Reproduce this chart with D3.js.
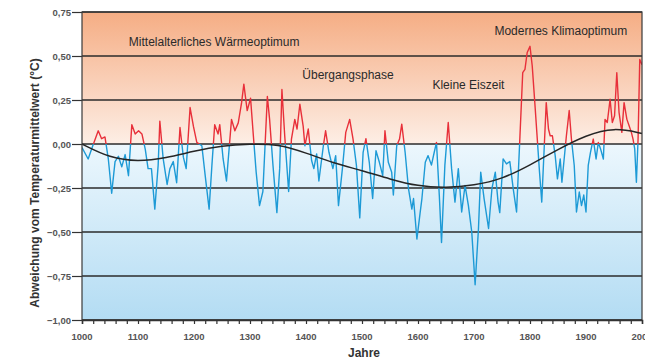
<!DOCTYPE html>
<html>
<head>
<meta charset="utf-8">
<script src="https://cdn.jsdelivr.net/npm/d3@7"></script>
<style>
  body { margin: 0; background: #fff; }
  svg { display: block; font-family: "Liberation Sans", Arial, sans-serif; }
</style>
</head>
<body>
<div id="chart"></div>
<script>
// Jahre und Abweichung (°C) der rekonstruierten Temperatur
var years = [1000, 1011, 1017, 1029, 1035, 1041, 1047, 1053, 1059, 1065, 1071, 1077, 1083, 1089, 1095, 1101, 1107, 1113, 1118, 1124,
  1130, 1136, 1139, 1145, 1152, 1157, 1163, 1169, 1175, 1181, 1186, 1193, 1199, 1205, 1214, 1220, 1227, 1232, 1237, 1243,
  1246, 1252, 1258, 1267, 1273, 1279, 1285, 1289, 1295, 1301, 1306, 1311, 1317, 1323, 1331, 1335, 1341, 1348, 1353, 1357,
  1362, 1369, 1374, 1380, 1384, 1389, 1395, 1398, 1404, 1410, 1414, 1419, 1423, 1431, 1435, 1441, 1448, 1453, 1458, 1465,
  1471, 1478, 1484, 1490, 1496, 1502, 1507, 1513, 1519, 1525, 1531, 1537, 1541, 1547, 1553, 1556, 1562, 1567, 1571, 1577,
  1583, 1589, 1592, 1598, 1604, 1607, 1613, 1618, 1624, 1629, 1633, 1638, 1642, 1648, 1654, 1660, 1666, 1672, 1678, 1684,
  1690, 1696, 1702, 1708, 1712, 1718, 1726, 1732, 1738, 1743, 1746, 1752, 1758, 1764, 1770, 1776, 1782, 1787, 1791, 1795,
  1800, 1804, 1809, 1813, 1817, 1821, 1825, 1829, 1833, 1836, 1840, 1845, 1849, 1854, 1857, 1861, 1865, 1870, 1874, 1879,
  1883, 1888, 1892, 1896, 1900, 1904, 1908, 1913, 1918, 1922, 1926, 1931, 1934, 1938, 1943, 1947, 1951, 1955, 1959, 1964,
  1968, 1973, 1977, 1981, 1984, 1987, 1990, 1993, 1996, 2000];
var values = [-0.02, -0.085, -0.03, 0.075, 0.03, 0.04, -0.085, -0.28, -0.10, -0.07, -0.13, -0.06, -0.18, 0.11, 0.057, 0.075, 0.057, -0.03, -0.14, -0.14,
  -0.37, -0.12, 0.13, -0.085, -0.23, -0.14, -0.10, -0.22, 0.094, -0.075, -0.14, 0.207, 0.10, 0.009, -0.01, -0.18, -0.37, -0.12, 0.11, 0.057,
  0.11, -0.085, -0.21, 0.14, 0.075, 0.12, 0.235, 0.34, 0.19, 0.26, 0.047, -0.16, -0.35, -0.27, 0.27, 0.14, -0.12, -0.39, -0.14, 0.31,
  0.047, -0.27, 0.028, 0.14, 0.085, 0.226, 0.10, -0.01, 0.085, -0.094, -0.14, -0.056, -0.21, -0.01, 0.075, -0.047, -0.14, -0.066, -0.35, -0.14,
  0.066, 0.14, 0.028, -0.12, -0.42, -0.047, 0.03, -0.104, -0.31, -0.038, -0.104, -0.18, 0.075, -0.104, -0.16, -0.29, -0.01, 0.028, 0.113, -0.047,
  -0.254, -0.37, -0.31, -0.54, -0.386, -0.31, -0.104, -0.066, -0.12, -0.047, 0.009, -0.29, -0.56, -0.12, 0.122, -0.14, -0.33, -0.14, -0.386, -0.235,
  -0.35, -0.5, -0.8, -0.48, -0.16, -0.31, -0.48, -0.254, -0.16, -0.33, -0.39, -0.085, -0.113, -0.10, -0.254, -0.386, 0.04, 0.405, 0.424, 0.52,
  0.555, 0.443, 0.216, 0.028, -0.16, -0.33, -0.047, 0.235, 0.085, 0.047, 0.047, -0.066, -0.198, -0.085, -0.217, -0.085, 0.047, 0.19, 0.028, -0.122,
  -0.386, -0.273, -0.35, -0.29, -0.386, -0.122, -0.047, 0.028, -0.085, 0.009, -0.028, -0.085, 0.14, 0.122, 0.254, 0.122, 0.16, 0.405, 0.18, 0.066,
  0.235, 0.14, 0.104, 0.066, 0.028, -0.028, -0.217, 0.028, 0.48, 0.45];

// geglaetteter Verlauf (schwarze Kurve)
var trendYears = [1000, 1050, 1100, 1150, 1200, 1250, 1300, 1350, 1400, 1450, 1500, 1550, 1600, 1650, 1700, 1750, 1800, 1850, 1900, 1950, 2000];
var trendValues = [0, -0.08, -0.1, -0.08, -0.04, -0.01, 0, 0, -0.05, -0.11, -0.15, -0.2, -0.24, -0.25, -0.235, -0.2, -0.12, -0.03, 0.05, 0.095, 0.06];

var yTicks = [0.75, 0.5, 0.25, 0, -0.25, -0.5, -0.75, -1];
var xTicks = [1000, 1100, 1200, 1300, 1400, 1500, 1600, 1700, 1800, 1900, 2000];

// Epochen-Beschriftungen: Text, Jahr (Mitte), Wert (Grundlinie)
var epochNames = ["Mittelalterliches Wärmeoptimum", "Übergangsphase", "Kleine Eiszeit", "Modernes Klimaoptimum"];
var epochYears = [1236, 1475, 1690, 1855];
var epochValues = [0.555, 0.37, 0.31, 0.62];

var svg = d3.select("#chart").append("svg")
  .attr("width", 645)
  .attr("height", 361),
  margin = {top: 12, right: 3, bottom: 41, left: 82},
  width = 645 - margin.left - margin.right,
  height = 361 - margin.top - margin.bottom;

var x = d3.scaleLinear().domain([1000, 2000]).range([margin.left, margin.left + width]);
var y = d3.scaleLinear().domain([-1, 0.75]).range([margin.top + height, margin.top]);

var defs = svg.append("defs");
var zeroOffset = (y(0) - margin.top) / height;

var grad = defs.append("linearGradient")
  .attr("id", "bg")
  .attr("x1", 0).attr("y1", 0)
  .attr("x2", 0).attr("y2", 1);
grad.append("stop").attr("offset", 0).attr("stop-color", "#f5ad84");
grad.append("stop").attr("offset", zeroOffset - 0.001).attr("stop-color", "#fdeee5");
grad.append("stop").attr("offset", zeroOffset).attr("stop-color", "#ecf7fd");
grad.append("stop").attr("offset", 1).attr("stop-color", "#b3dcf3");

defs.append("clipPath").attr("id", "above")
  .append("rect")
  .attr("x", margin.left).attr("y", margin.top)
  .attr("width", width).attr("height", y(0) - margin.top);
defs.append("clipPath").attr("id", "below")
  .append("rect")
  .attr("x", margin.left).attr("y", y(0))
  .attr("width", width).attr("height", margin.top + height - y(0));

svg.append("rect")
  .attr("x", margin.left)
  .attr("y", margin.top)
  .attr("width", width)
  .attr("height", height)
  .attr("fill", "url(#bg)");

// Gitterlinien mit Tick-Strichen nach links
svg.append("g")
  .attr("transform", "translate(" + margin.left + ",0)")
  .call(d3.axisLeft(y).tickValues(yTicks).tickSize(10)
    .tickFormat(function(d) { return d3.format(".2f")(d).replace(".", ","); }))
  .call(function(g) {
    g.select(".domain").remove();
    g.selectAll(".tick line").attr("stroke", "#333").attr("stroke-width", 1.2);
    g.selectAll(".tick text").attr("x", -11).attr("fill", "#555")
      .attr("font-size", 9.5).attr("font-weight", "bold");
  });

svg.append("g")
  .selectAll("line")
  .data(yTicks)
  .enter()
  .append("line")
  .attr("x1", margin.left)
  .attr("x2", margin.left + width)
  .attr("y1", function(d) { return y(d); })
  .attr("y2", function(d) { return y(d); })
  .attr("stroke", "#2b2b2b")
  .attr("stroke-width", 1.3);

var line = d3.line()
  .x(function(d, i) { return x(years[i]); })
  .y(function(d) { return y(d); });

svg.append("path")
  .datum(values)
  .attr("clip-path", "url(#above)")
  .attr("d", line)
  .attr("fill", "none")
  .attr("stroke", "#e8303a")
  .attr("stroke-width", 1.4)
  .attr("stroke-linejoin", "round");

svg.append("path")
  .datum(values)
  .attr("clip-path", "url(#below)")
  .attr("d", line)
  .attr("fill", "none")
  .attr("stroke", "#1d9ad6")
  .attr("stroke-width", 1.4)
  .attr("stroke-linejoin", "round");

var trend = d3.line()
  .curve(d3.curveBasis)
  .x(function(d, i) { return x(trendYears[i]); })
  .y(function(d) { return y(d); });

svg.append("path")
  .datum(trendValues)
  .attr("d", trend)
  .attr("fill", "none")
  .attr("stroke", "#262626")
  .attr("stroke-width", 1.5);

// Rahmen
svg.append("rect")
  .attr("x", margin.left)
  .attr("y", margin.top)
  .attr("width", width)
  .attr("height", height)
  .attr("fill", "none")
  .attr("stroke", "#3a3a3a")
  .attr("stroke-width", 1.2);

svg.append("g")
  .attr("transform", "translate(0," + (margin.top + height) + ")")
  .call(d3.axisBottom(x).ticks(50).tickSize(4).tickFormat(""))
  .call(function(g) {
    g.select(".domain").attr("stroke", "#333").attr("stroke-width", 1.5);
    g.selectAll(".tick line").attr("stroke", "#333").attr("stroke-width", 1.2);
  });

svg.append("g")
  .selectAll("text")
  .data(xTicks)
  .enter()
  .append("text")
  .attr("x", function(d) { return x(d); })
  .attr("y", margin.top + height + 20)
  .attr("text-anchor", "middle")
  .attr("font-size", 9.5)
  .attr("font-weight", "bold")
  .attr("fill", "#555")
  .text(function(d) { return d; });

svg.append("text")
  .attr("x", 364)
  .attr("y", 357)
  .attr("text-anchor", "middle")
  .attr("font-size", 12)
  .attr("font-weight", "bold")
  .attr("fill", "#333")
  .text("Jahre");

svg.append("text")
  .attr("transform", "translate(39,183) rotate(-90)")
  .attr("text-anchor", "middle")
  .attr("font-size", 12)
  .attr("font-weight", "bold")
  .attr("fill", "#333")
  .text("Abweichung vom Temperaturmittelwert (°C)");

svg.append("g")
  .selectAll("text")
  .data(epochNames)
  .enter()
  .append("text")
  .attr("x", function(d, i) { return x(epochYears[i]); })
  .attr("y", function(d, i) { return y(epochValues[i]); })
  .attr("text-anchor", "middle")
  .attr("font-size", 12)
  .attr("fill", "#2a2a2a")
  .text(function(d) { return d; });
</script>
</body>
</html>
